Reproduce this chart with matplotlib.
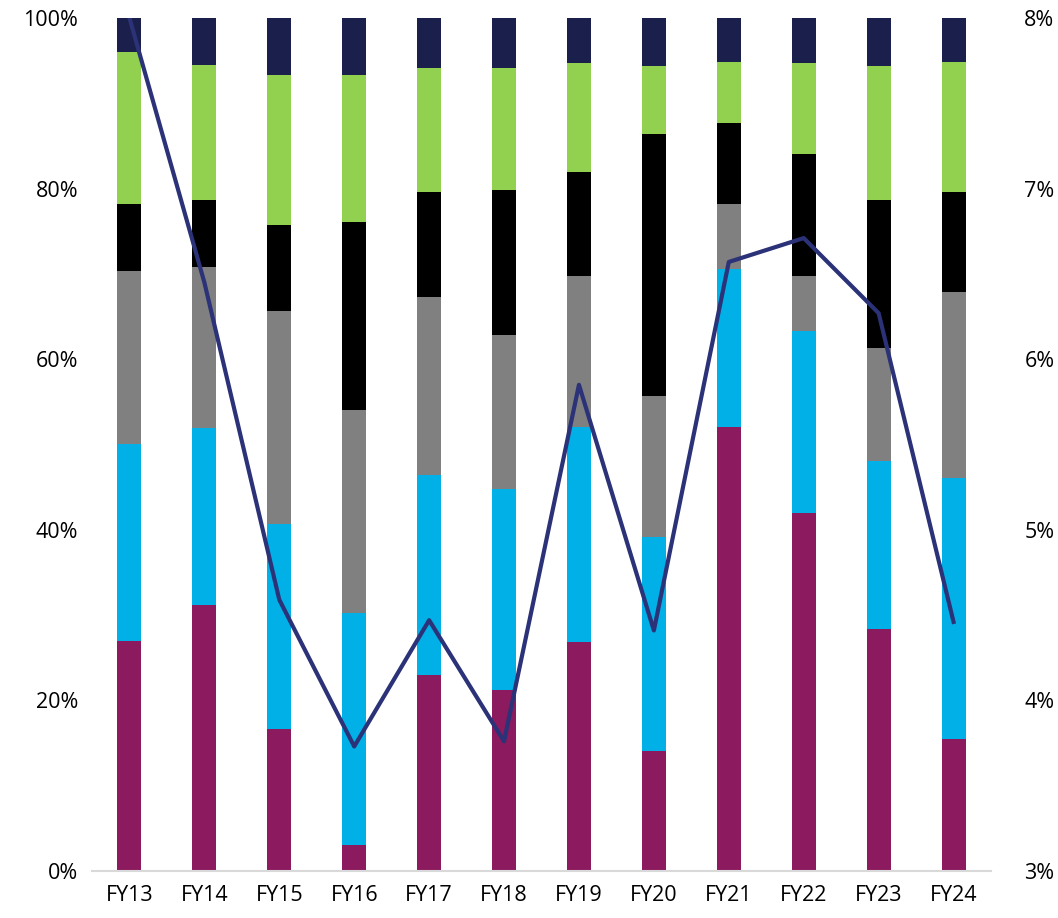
import numpy as np
import matplotlib.pyplot as plt
from matplotlib.ticker import FuncFormatter

plt.rcParams['font.family'] = ['Open Sans', 'DejaVu Sans']

years = ['FY13', 'FY14', 'FY15', 'FY16', 'FY17', 'FY18',
         'FY19', 'FY20', 'FY21', 'FY22', 'FY23', 'FY24']

# stacked shares in %, bottom to top
s_purple = [27.0, 31.2, 16.6, 3.0, 23.0, 21.2, 26.8, 14.1, 52.0, 42.0, 28.4, 15.5]
s_cyan   = [23.1, 20.7, 24.1, 27.2, 23.4, 23.6, 25.3, 25.0, 18.6, 21.3, 19.7, 30.6]
s_gray   = [20.2, 18.9, 24.9, 23.8, 20.9, 18.0, 17.7, 16.6, 7.6, 6.5, 13.2, 21.8]
s_black  = [7.9, 7.9, 10.1, 22.1, 12.3, 17.0, 12.1, 30.7, 9.5, 14.2, 17.4, 11.7]
s_green  = [17.8, 15.8, 17.6, 17.2, 14.5, 14.3, 12.8, 8.0, 7.1, 10.7, 15.7, 15.2]
s_navy   = [4.0, 5.5, 6.7, 6.7, 5.9, 5.9, 5.3, 5.6, 5.2, 5.3, 5.6, 5.2]

# line on right axis, %
line_vals = [8.0, 6.45, 4.59, 3.73, 4.47, 3.76, 5.85, 4.41, 6.57, 6.71, 6.27, 4.46]

series = [s_purple, s_cyan, s_gray, s_black, s_green, s_navy]
colors = ['#8B1A5E', '#00B0E6', '#808080', '#000000', '#92D050', '#1B1F4B']

fig = plt.figure(figsize=(10.58, 9.18), dpi=100)
ax = fig.add_axes([92/1058, 47/918, 899/1058, 853/918])
x = np.arange(len(years))
bottom = np.zeros(len(years))
for vals, c in zip(series, colors):
    vals = np.array(vals)
    ax.bar(x, vals, 0.32, bottom=bottom, color=c, edgecolor='none', zorder=2)
    bottom += vals

ax.set_xlim(-0.5, len(years) - 0.5)
ax.set_ylim(0, 100)
ax.set_yticks(np.arange(0, 101, 20))
ax.yaxis.set_major_formatter(FuncFormatter(lambda v, p: f'{v:.0f}%'))
ax.set_xticks(x)
ax.set_xticklabels(years)
for s in ['top', 'right', 'left']:
    ax.spines[s].set_visible(False)
ax.spines['bottom'].set_color('#D9D9D9')
ax.spines['bottom'].set_linewidth(1.5)
ax.tick_params(length=0, labelsize=15.5, colors='#000000')
ax.tick_params(axis='x', pad=10)
ax.tick_params(axis='y', pad=10)

ax2 = ax.twinx()
ax2.plot(x, line_vals, color='#2B3278', lw=3.0, zorder=3)
ax2.set_ylim(3, 8)
ax2.set_yticks(np.arange(3, 9, 1))
ax2.yaxis.set_major_formatter(FuncFormatter(lambda v, p: f'{v:.0f}%'))
for s in ax2.spines.values():
    s.set_visible(False)
ax2.tick_params(length=0, labelsize=15.5, pad=24)

fig.savefig('out.png', dpi=100)
